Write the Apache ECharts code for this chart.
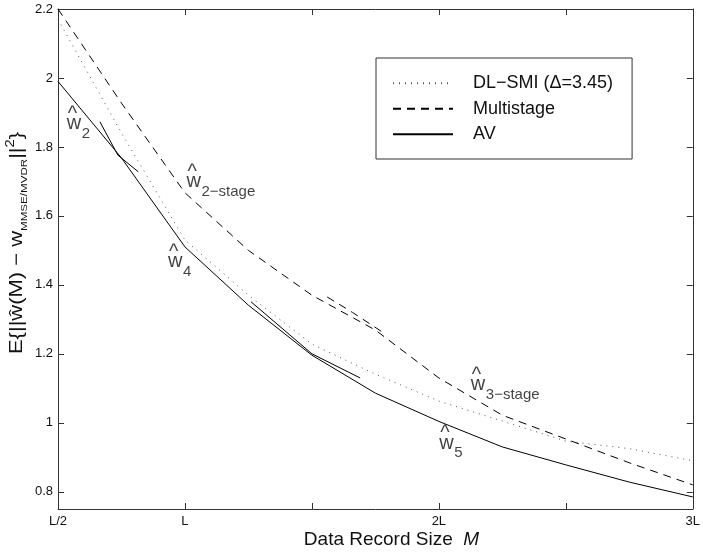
<!DOCTYPE html>
<html>
<head>
<meta charset="utf-8">
<script src="https://cdn.jsdelivr.net/npm/echarts@6/dist/echarts.min.js"></script>
<style>
  html, body { margin: 0; padding: 0; background: #fff; }
  #chart { width: 703px; height: 557px; }
</style>
</head>
<body>
<div id="chart"></div>
<script>
// Data record size M, in multiples of L
const recordSizes = [0.5, 0.75, 1, 1.25, 1.5, 1.75, 2, 2.25, 2.5, 2.75, 3];

// E{ || w_hat(M) - w_MMSE/MVDR ||^2 } for each estimator
const dlSmi      = [2.17, 1.84, 1.53, 1.37, 1.228, 1.141, 1.063, 1.005, 0.947, 0.925, 0.89];
const multistage = [2.2, 1.927, 1.667, 1.5, 1.37, 1.269, 1.13, 1.022, 0.953, 0.884, 0.82];
const av         = [1.99, 1.768, 1.51, 1.341, 1.196, 1.086, 1.004, 0.93, 0.878, 0.828, 0.785];

// short pieces of the individual stage curves
const w2Sizes = [0.665, 0.736, 0.816];
const w2Err   = [1.873, 1.776, 1.728];
const w4Sizes = [1.26, 1.5, 1.69];
const w4Err   = [1.351, 1.2, 1.13];
const w3sSizes = [1.56, 1.66, 1.78];
const w3sErr   = [1.365, 1.32, 1.262];

// curve annotations: anchor (M, error) and subscript
const noteSizes = [0.534, 1.006, 0.9336, 2.126, 2.0016];
const noteErr   = [1.8486, 1.6796, 1.4477, 1.09, 0.921];
const noteSubs  = ['2', '2\u2212stage', '4', '3\u2212stage', '5'];

// axis ticks
const xTickValues = [0.5, 1, 2, 3];
const xTickText   = ['L/2', 'L', '2L', '3L'];
const yTickValues = [0.8, 1, 1.2, 1.4, 1.6, 1.8, 2, 2.2];

const seriesNames = ['DL\u2212SMI (\u0394=3.45)', 'Multistage', 'AV'];

const FONT = "'Liberation Sans', Arial, Helvetica, sans-serif";
const INK = '#111';
const FRAME = '#333';

const pair = (xs, ys) => xs.map((x, i) => [x, ys[i]]);

function xLabel(v) {
  const i = xTickValues.findIndex(t => Math.abs(t - v) < 1e-9);
  return i >= 0 ? xTickText[i] : '';
}

// annotation items: hat, w and subscript placed around each anchor
const noteItems = [];
noteSizes.forEach((m, i) => {
  const at = [m, noteErr[i]];
  noteItems.push({ value: at, label: { formatter: '^', fontSize: 20, position: [1, -16.1] } });
  noteItems.push({ value: at, label: { formatter: 'w', fontSize: 20, position: [0, -6.93] } });
  noteItems.push({ value: at, label: { formatter: noteSubs[i], fontSize: 15, position: [15, 3.3] } });
});

const lineBase = {
  type: 'line',
  symbol: 'none',
  smooth: false,
  xAxisIndex: 0,
  yAxisIndex: 0,
  z: 3
};

const option = {
  animation: false,
  backgroundColor: '#fff',
  textStyle: { fontFamily: FONT, color: INK },
  grid: { left: 58, right: 9, top: 9, bottom: 48, show: false },
  xAxis: [
    {
      type: 'value', position: 'bottom', min: 0.5, max: 3, interval: 0.5,
      axisLine: { show: true, lineStyle: { color: FRAME, width: 1 } },
      axisTick: { show: true, inside: true, length: 6, lineStyle: { color: FRAME } },
      axisLabel: {
        show: true, margin: 6, fontSize: 13, color: INK, fontFamily: FONT,
        formatter: xLabel, showMinLabel: true, showMaxLabel: true
      },
      splitLine: { show: false }
    },
    {
      type: 'value', position: 'top', min: 0.5, max: 3, interval: 0.5,
      axisLine: { show: true, onZero: false, lineStyle: { color: FRAME, width: 1 } },
      axisTick: { show: true, inside: true, length: 6, lineStyle: { color: FRAME } },
      axisLabel: { show: false },
      splitLine: { show: false }
    }
  ],
  yAxis: [
    {
      type: 'value', position: 'left', min: 0.75, max: 2.2,
      axisLine: { show: true, onZero: false, lineStyle: { color: FRAME, width: 1 } },
      axisTick: { show: true, inside: true, length: 6, customValues: yTickValues, lineStyle: { color: FRAME } },
      axisLabel: { show: true, margin: 5, fontSize: 13, color: INK, fontFamily: FONT, customValues: yTickValues },
      splitLine: { show: false }
    },
    {
      type: 'value', position: 'right', min: 0.75, max: 2.2,
      axisLine: { show: true, onZero: false, lineStyle: { color: FRAME, width: 1 } },
      axisTick: { show: true, inside: true, length: 6, customValues: yTickValues, lineStyle: { color: FRAME } },
      axisLabel: { show: false },
      splitLine: { show: false }
    }
  ],
  legend: {
    data: seriesNames,
    orient: 'vertical',
    left: 376, top: 58,
    padding: [16.3, 19, 15.7, 16],
    itemWidth: 60, itemHeight: 14, itemGap: 7.5,
    backgroundColor: '#fff',
    borderColor: FRAME, borderWidth: 1, borderRadius: 0,
    selectedMode: false,
    itemStyle: { color: 'rgba(0,0,0,0)', borderWidth: 0, opacity: 0 },
    textStyle: { fontSize: 18, color: INK, fontFamily: FONT, lineHeight: 18, padding: [0, 0, 0, 15] }
  },
  series: [
    Object.assign({}, lineBase, {
      name: seriesNames[0], data: pair(recordSizes, dlSmi),
      lineStyle: { color: '#555', width: 1, type: [1, 5] }, itemStyle: { color: '#555' }
    }),
    Object.assign({}, lineBase, {
      name: seriesNames[1], data: pair(recordSizes, multistage),
      lineStyle: { color: '#000', width: 1, type: [8, 6] }, itemStyle: { color: '#000' }
    }),
    Object.assign({}, lineBase, {
      name: seriesNames[2], data: pair(recordSizes, av),
      lineStyle: { color: '#000', width: 1, type: 'solid' }, itemStyle: { color: '#000' }
    }),
    Object.assign({}, lineBase, {
      name: 'w2', data: pair(w2Sizes, w2Err),
      lineStyle: { color: '#000', width: 1, type: 'solid' }
    }),
    Object.assign({}, lineBase, {
      name: 'w4', data: pair(w4Sizes, w4Err),
      lineStyle: { color: '#000', width: 1, type: 'solid' }
    }),
    Object.assign({}, lineBase, {
      name: 'w3-stage', data: pair(w3sSizes, w3sErr),
      lineStyle: { color: '#000', width: 1, type: [8, 6] }
    }),
    {
      type: 'scatter', name: 'notes', silent: true, z: 5,
      symbolSize: 0,
      data: noteItems,
      label: {
        show: true, align: 'left', verticalAlign: 'middle',
        color: INK, fontFamily: FONT
      }
    }
  ],
  graphic: [
    {
      type: 'text', x: 17.1, y: 243, rotation: Math.PI / 2, scaleX: 1.22, silent: true,
      style: {
        text: '{m|E{||\u0175(M) \u2212 w}{sub|MMSE/MVDR}{m|||}{sup|2}}',
        align: 'center', verticalAlign: 'middle',
        fontFamily: FONT, fontSize: 18, lineHeight: 24, fill: INK,
        rich: {
          m: { fontSize: 18, lineHeight: 24, fontFamily: FONT, fill: INK },
          sub: { fontSize: 9.5, lineHeight: 10, verticalAlign: 'bottom', fontFamily: FONT, fill: INK },
          sup: { fontSize: 12, lineHeight: 12, verticalAlign: 'top', fontFamily: FONT, fill: INK }
        }
      }
    },
    {
      type: 'text', x: 391.5, y: 540.1, silent: true,
      style: {
        text: '{a|Data Record Size  }{m|M}',
        align: 'center', verticalAlign: 'middle',
        fontFamily: FONT, fontSize: 19, fill: INK,
        rich: {
          a: { fontSize: 19, fontFamily: FONT, fill: INK },
          m: { fontSize: 19, fontStyle: 'italic', fontFamily: FONT, fill: INK }
        }
      }
    }
  ]
};

const chart = echarts.init(document.getElementById('chart'), null, { renderer: 'canvas' });
chart.setOption(option);
</script>
</body>
</html>
